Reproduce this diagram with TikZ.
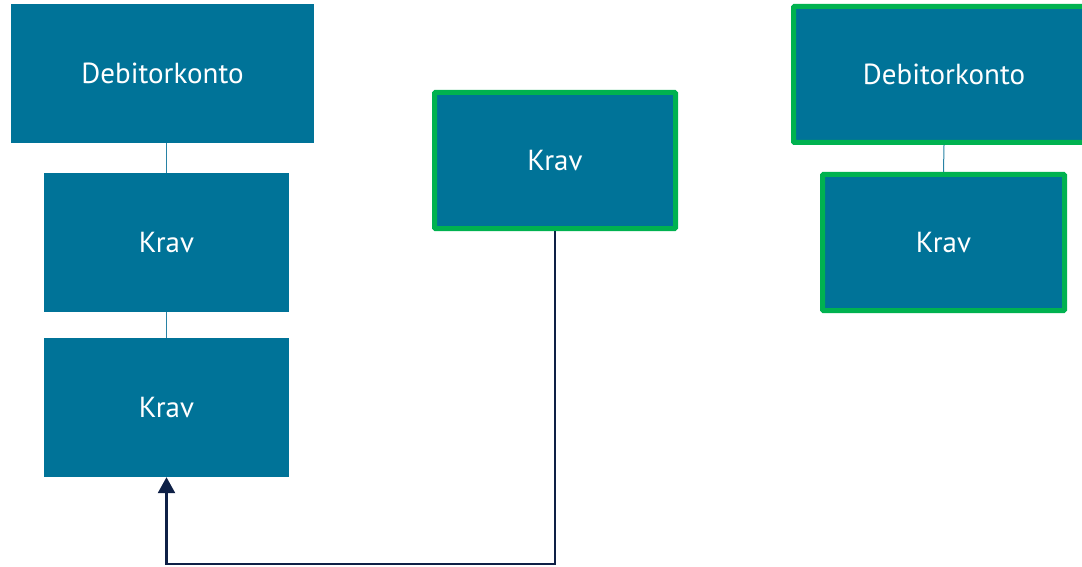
\documentclass[tikz,border=0pt]{standalone}
\usepackage{fontspec}
\setmainfont{PT Sans}
\usetikzlibrary{arrows.meta}
\definecolor{boxfill}{RGB}{0,115,152}
\definecolor{boxgreen}{RGB}{0,178,80}
\definecolor{linknavy}{RGB}{14,32,70}
\definecolor{linkteal}{RGB}{40,130,165}
\tikzset{
  plainbox/.style={fill=boxfill, draw=none, inner sep=0pt, text=white, font=\fontsize{29}{34}\selectfont},
  greenbox/.style={plainbox, draw=boxgreen, line width=5pt, rounded corners=1pt},
  tealline/.style={draw=linkteal, line width=1pt},
  flowarrow/.style={draw=linknavy, line width=2.5pt, -{Triangle[length=16pt,width=17pt]}},
}
\begin{document}
\begin{tikzpicture}[x=1pt,y=-1pt]
\useasboundingbox (0,0) rectangle (1082,567);
\node[plainbox, minimum width=303pt, minimum height=139pt] (d1) at (162.5,73.5) {Debitorkonto};
\node[plainbox, minimum width=245pt, minimum height=139pt] (k1) at (166.5,242.5) {Krav};
\node[plainbox, minimum width=245pt, minimum height=139pt] (k2) at (166.5,407.5) {Krav};
\node[greenbox, minimum width=241pt, minimum height=136pt] (k3) at (555,160.5) {Krav};
\node[greenbox, minimum width=301pt, minimum height=136pt] (d2) at (944,74.5) {Debitorkonto};
\node[greenbox, minimum width=242pt, minimum height=136pt] (k4) at (943.5,242.5) {Krav};
\draw[tealline] (d1.south -| k1.north) -- (k1.north);
\draw[tealline] (k1.south) -- (k2.north);
\draw[tealline] (d2.south) -- (k4.north);
\coordinate (bend) at (555,564);
\draw[flowarrow] (k3.south) |- (bend) -| (k2.south);
\end{tikzpicture}
\end{document}
